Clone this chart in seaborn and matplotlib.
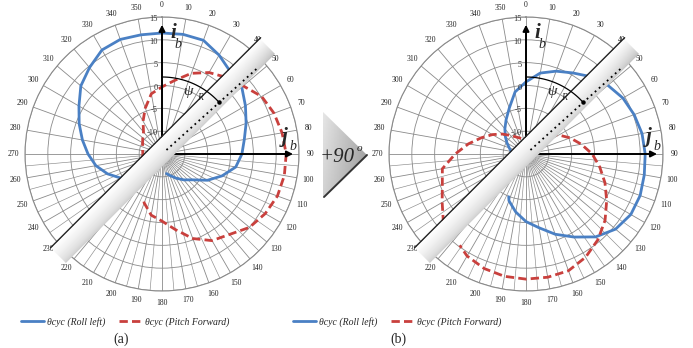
import numpy as np
import matplotlib
matplotlib.use("Agg")
import matplotlib.pyplot as plt
import seaborn as sns
from matplotlib.transforms import Affine2D, offset_copy
from matplotlib.patches import Polygon

# ---------------- data (degrees clockwise from top, theta_cyc in deg) ----------------
THETA_TICKS = list(range(0, 360, 10))
R_TICKS = [15, 10, 5, 0, -5, -10, -15]

A_ROLL_ANG = [230, 240, 250, 260, 270, 280, 290, 300, 310, 320, 330, 340, 350,
              0, 10, 20, 30, 40, 50, 60, 70, 80, 90, 100, 110, 120, 130, 140, 150, 160, 167]
A_ROLL_VAL = [-7.1, -4.5, -2.3, -0.3, 1.2, 2.7, 4.3, 6.0, 8.2, 9.7, 11.3, 11.7, 11.5,
              11.5, 11.6, 11.5, 10.0, 8.4, 7.8, 6.1, 4.6, 3.3, 2.5, 1.4, -1.0, -3.5, -6.2, -7.6, -8.9, -10.0, -10.6]

A_PITCH_ANG = [230, 240, 250, 260, 270, 280, 290, 300, 310, 320, 330, 340, 350,
               0, 10, 20, 30, 40, 50, 60, 70, 80, 90, 100, 110, 120, 130, 140, 150, 160, 170, 180, 190, 200, 203]
A_PITCH_VAL = [-9.3, -10.2, -10.6, -10.7, -10.8, -10.7, -10.5, -10.1, -9.5, -8.7, -6.7, -4.3, -1.6,
               -0.3, 1.4, 3.8, 5.6, 6.9, 8.2, 10.2, 11.1, 11.7, 12.2, 12.2, 11.9, 11.1, 10.0, 8.0, 6.9, 4.7, 1.8, -0.3, -1.4, -3.6, -4.5]

B_ROLL_ANG = [230, 240, 250, 260, 270, 280, 290, 300, 310, 320, 330, 340, 350,
              0, 10, 20, 30, 40, 50, 60, 70, 80, 90, 100, 110, 120, 130, 140, 150, 160, 170, 180, 190, 200, 202]
B_ROLL_VAL = [-9.2, -10.4, -11.3, -11.7, -11.9, -11.7, -11.1, -10.2, -9.1, -7.8, -6.3, -4.3, -1.2,
              0.8, 3.0, 4.3, 5.5, 7.1, 8.4, 9.5, 10.2, 10.8, 11.1, 11.3, 11.6, 11.5, 10.6, 8.7, 6.0, 3.7, 1.4, -0.2, -2.1, -4.1, -4.9]

B_PITCH_ANG = [230, 240, 250, 260, 270, 280, 290, 300, 310, 320, 330, 340, 350,
               0, 10, 20, 30, 40, 50, 60, 70, 80, 90, 100, 110, 120, 130, 140, 150, 160, 170, 180, 190, 200, 210, 216]
B_PITCH_VAL = [8.6, 6.2, 4.5, 3.6, 0.5, -2.2, -4.6, -6.5, -8.2, -9.7, -10.7, -11.3, -11.7,
               -11.8, -11.6, -11.1, -10.3, -9.3, -8.2, -6.7, -4.7, -2.7, -0.5, 1.4, 3.4, 5.4, 7.6, 9.5, 11.1, 12.2, 12.4, 12.4, 12.2, 11.7, 10.8, 9.7]

LEG_ROLL = "θcyc (Roll left)"
LEG_PITCH = "θcyc (Pitch Forward)"
PANEL_LABELS = ["(a)", "(b)"]

BLUE = "#4a80c4"
RED = "#c9403d"
GRID = "#8a8a8a"

# ---------------- figure ----------------
sns.set_style("white")
plt.rcParams["font.family"] = ["Liberation Serif", "DejaVu Serif"]

W, H = 693, 348
fig = plt.figure(figsize=(W / 100, H / 100), dpi=100)
R_PX = 137
CENTERS = [(162, 154), (526, 154)]
LEG_X = [125, 397]
LAB_X = [121, 398]

panels = [(A_ROLL_ANG, A_ROLL_VAL, A_PITCH_ANG, A_PITCH_VAL),
          (B_ROLL_ANG, B_ROLL_VAL, B_PITCH_ANG, B_PITCH_VAL)]

for k, (cx, cy) in enumerate(CENTERS):
    ax = fig.add_axes([(cx - R_PX) / W, 1 - (cy + R_PX) / H, 2 * R_PX / W, 2 * R_PX / H],
                      projection="polar")
    ax.set_theta_zero_location("N")
    ax.set_theta_direction(-1)
    ra, rv, pa, pv = panels[k]
    sns.lineplot(x=np.radians(ra), y=rv, ax=ax, sort=False, estimator=None,
                 color=BLUE, linewidth=2.0, zorder=5)
    sns.lineplot(x=np.radians(pa), y=pv, ax=ax, sort=False, estimator=None,
                 color=RED, linewidth=2.0, zorder=5)
    l_roll, l_pitch = ax.lines[-2], ax.lines[-1]
    l_pitch.set_dashes((3.0, 1.5))
    ax.set_xlabel("")
    ax.set_ylabel("")
    ax.set_xlim(0, 2 * np.pi)
    ax.set_ylim(-15, 15)
    ax.set_xticks(np.radians(THETA_TICKS))
    ax.set_xticklabels([str(t) for t in THETA_TICKS], fontsize=5.5, color="#222222")
    ax.tick_params(axis="x", pad=-2.2)
    ax.set_yticks(R_TICKS)
    ax.set_yticklabels([])
    ax.grid(True, color=GRID, linewidth=0.6)
    ax.spines["polar"].set_color(GRID)
    ax.spines["polar"].set_linewidth(0.8)
    # extra spokes in lower half
    for d in range(95, 270, 10):
        ax.plot([np.radians(d)] * 2, [-13, 15], color=GRID, linewidth=0.45, zorder=1)
    # radial labels
    tr = offset_copy(ax.transData, fig=fig, x=-4, y=-2, units="dots")
    for r in R_TICKS:
        ax.text(0, r, str(r), transform=tr, ha="right", va="center", fontsize=6, color="#333333", zorder=6)
    # body axes arrows
    ax.annotate("", xy=(0, 13.3), xytext=(0, -15),
                arrowprops=dict(arrowstyle="-|>", lw=1.4, color="black", mutation_scale=9,
                                shrinkA=0, shrinkB=0), zorder=7)
    ax.annotate("", xy=(np.pi / 2, 13.7), xytext=(np.pi / 2, -15),
                arrowprops=dict(arrowstyle="-|>", lw=1.4, color="black", mutation_scale=9,
                                shrinkA=0, shrinkB=0), zorder=7)
    leg = ax.legend([l_roll, l_pitch], [LEG_ROLL, LEG_PITCH], loc="center",
                    bbox_to_anchor=(LEG_X[k] / W, 1 - 322 / H), bbox_transform=fig.transFigure,
                    ncol=2, frameon=False, handlelength=2.4, handletextpad=0.25, columnspacing=1.4,
                    prop=dict(family="Liberation Serif", style="italic", size=7))

# ---------------- overlay (decorations in pixel coords) ----------------
ov = fig.add_axes([0, 0, 1, 1])
ov.axis("off")

for k, (cx, cy) in enumerate(CENTERS):
    ang = np.radians(45)
    u = np.array([np.sin(ang), -np.cos(ang)])
    nv = np.array([-np.cos(ang), -np.sin(ang)])
    off = 2.0
    M = np.array([[u[0], nv[0], cx + off * nv[0]],
                  [u[1], nv[1], cy + off * nv[1]],
                  [0, 0, 1]])
    s0, s1, n0, n1 = -145, 150, -10.5, 10.5
    nn = np.linspace(0, 1, 40)[:, None]
    ss = np.linspace(0, 1, 120)[None, :]
    img = 0.80 + 0.20 * nn ** 0.6 + 0.0 * ss
    img = img - 0.06 * np.clip((ss - 0.85) / 0.15, 0, 1) * (1 - nn)
    im = ov.imshow(img, extent=(s0, s1, n0, n1), origin="lower", cmap="gray",
                   vmin=0, vmax=1, aspect="auto", interpolation="bilinear", zorder=2)
    im.set_transform(Affine2D(M) + ov.transData)
    p0 = np.array([cx, cy]) + off * nv + n1 * nv + s0 * u
    p1 = np.array([cx, cy]) + off * nv + n1 * nv + (s1 + 2) * u
    ov.plot([p0[0], p1[0]], [p0[1], p1[1]], color="#222222", lw=1.0, zorder=3)
    # dotted line at psi_R
    pr = np.radians(48)
    d = np.array([np.sin(pr), -np.cos(pr)])
    q0 = np.array([cx, cy]) + 6 * d
    q1 = np.array([cx, cy]) + 127 * d
    ov.plot([q0[0], q1[0]], [q0[1], q1[1]], color="black", lw=1.3, ls=(0, (1, 2)), zorder=4)
    # arc for psi_R
    t = np.radians(np.linspace(0, 48, 40))
    ov.plot(cx + 77 * np.sin(t), cy - 77 * np.cos(t), color="black", lw=0.9, zorder=4)
    ov.plot([cx + 77 * np.sin(pr)], [cy - 77 * np.cos(pr)], "o", color="black", ms=2.2, zorder=4)
    ov.text(cx + 26, cy - 63, "ψ", fontsize=11, style="italic", ha="center", va="center", zorder=5)
    ov.text(cx + 38, cy - 57, "R", fontsize=7, style="italic", ha="center", va="center", zorder=5)
    # axis labels
    ov.text(cx + 11, cy - 121, "i", fontsize=15, style="italic", weight="bold", ha="center", va="center", zorder=5)
    ov.text(cx + 16, cy - 110, "b", fontsize=10, style="italic", ha="center", va="center", zorder=5)
    ov.text(cx + 123, cy - 17, "j", fontsize=15, style="italic", weight="bold", ha="center", va="center", zorder=5)
    ov.text(cx + 131, cy - 7, "b", fontsize=10, style="italic", ha="center", va="center", zorder=5)
    # panel label
    ov.text(LAB_X[k], 339, PANEL_LABELS[k], fontsize=10, ha="center", va="center", zorder=5)

# +90 chevron
chev = Polygon([[323, 112], [367, 155], [323, 197]], closed=True, facecolor="none", edgecolor="none")
ov.add_patch(chev)
gx = np.linspace(0, 1, 60)[None, :]
gy = np.linspace(0, 1, 60)[:, None]
grad = 0.90 - 0.22 * gx - 0.08 * gy
gim = ov.imshow(grad, extent=(323, 367, 197, 112), origin="upper", cmap="gray", vmin=0, vmax=1,
                aspect="auto", interpolation="bilinear", zorder=2)
gim.set_clip_path(chev)
ov.plot([324, 367], [197, 155], color="#333333", lw=1.4, zorder=3)
ov.text(320, 162, "+90", fontsize=15, style="italic", ha="left", va="baseline", zorder=5)
ov.text(357, 151, "o", fontsize=8, style="italic", ha="left", va="baseline", zorder=5)

ov.set_xlim(0, W)
ov.set_ylim(H, 0)

fig.savefig("out.png", dpi=100)
